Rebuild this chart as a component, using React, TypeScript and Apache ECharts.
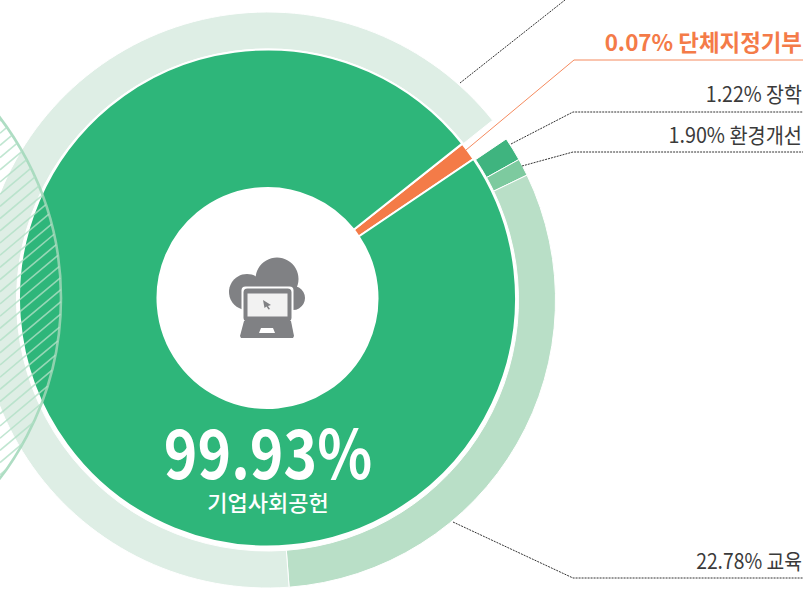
import React, { useEffect, useRef } from "react";
import * as echarts from "echarts";

// Drawn sweep of each slice in degrees (the source graphic is not to scale with its labels)
const innerNames = ["단체지정기부", "기업사회공헌"];
const innerSweeps = [4.4, 355.6];
const innerColors = ["#F47B48", "#2EB67A"];

const outerNames = ["", "장학", "환경개선", "교육", "기타"];
const outerSweeps = [4.6, 4.8, 3.5, 111.4, 235.7];
const outerColors = ["rgba(0,0,0,0)", "#3FB47F", "#7DCA9F", "#B9DFC7", "#DEEEE5"];

const bigValue = "99.93%";
const bigName = "기업사회공헌";
const labelTexts = ["0.07% 단체지정기부", "1.22% 장학", "1.90% 환경개선", "22.78% 교육"];
const FONT = '"Noto Sans CJK KR", "Noto Sans", sans-serif';

function hatch() {
  const cx = -235, cy = 298, R = 296;
  const k = -Math.tan((40 * Math.PI) / 180);
  const out: any[] = [];
  for (let c = 60; c < 560; c += 12.2) {
    const A = 1 + k * k;
    const B = 2 * (k * (c - cy) - cx);
    const C = cx * cx + (c - cy) * (c - cy) - R * R;
    const D = B * B - 4 * A * C;
    if (D <= 0) continue;
    const x2 = (-B + Math.sqrt(D)) / (2 * A);
    const x1 = Math.max(0, (-B - Math.sqrt(D)) / (2 * A));
    if (x2 <= 0) continue;
    out.push({
      type: "line", z: 10, silent: true,
      shape: { x1, y1: k * x1 + c, x2, y2: k * x2 + c },
      style: { stroke: "rgba(176,224,198,0.8)", lineWidth: 1.6 },
    });
  }
  return out;
}

function leader(points: number[][], dashed: boolean) {
  return {
    type: "polyline", z: 10, silent: true,
    shape: { points },
    style: dashed
      ? { stroke: "#333", lineWidth: 1, lineDash: [2, 1], fill: "none" }
      : { stroke: "#F58A5E", lineWidth: 1, fill: "none" },
  };
}

function label(text: string, y: number, sx: number, bold = false) {
  return {
    type: "text", z: 10, silent: true, x: 802, y, scaleX: sx,
    style: {
      text, align: "right", verticalAlign: "middle",
      font: `${bold ? 700 : 400} ${bold ? 23 : 21}px ${FONT}`,
      fill: bold ? "#F47B48" : "#3a3a3a",
    },
  };
}

function icon() {
  const g = "#808184";
  return [
    { type: "circle", shape: { cx: 247, cy: 292, r: 18 }, style: { fill: g } },
    { type: "circle", shape: { cx: 277, cy: 279, r: 21.5 }, style: { fill: g } },
    { type: "circle", shape: { cx: 293, cy: 298, r: 12 }, style: { fill: g } },
    { type: "rect", shape: { x: 241.5, y: 286.5, width: 52, height: 37, r: 4 }, style: { fill: "#fff" } },
    { type: "rect", shape: { x: 243.5, y: 288.5, width: 48, height: 33, r: 4 }, style: { fill: g } },
    { type: "rect", shape: { x: 247.5, y: 293.5, width: 40, height: 23 }, style: { fill: "#f2f2f2" } },
    { type: "polygon", shape: { points: [[263, 300], [271, 305], [268, 306], [270, 309], [268.5, 309.5], [266.5, 306.5], [264.5, 308]] }, style: { fill: g } },
    { type: "polygon", shape: { points: [[244, 321], [291, 321], [294, 336], [293, 338], [241, 338], [240, 336]] }, style: { fill: g } },
    { type: "polygon", shape: { points: [[261, 328], [273, 328], [275, 333], [259, 333]] }, style: { fill: "#fff" } },
  ].map((e) => ({ ...e, z: 10, silent: true }));
}

export default function App() {
  const ref = useRef<HTMLDivElement>(null);
  useEffect(() => {
    const chart = echarts.init(ref.current!, undefined, { renderer: "svg" });
    chart.setOption({
      animation: false,
      backgroundColor: "#fff",
      series: [
        {
          type: "pie", silent: true, center: [267.5, 300], radius: [251, 288], startAngle: 38.6,
          clockwise: true, minAngle: 0, label: { show: false }, labelLine: { show: false },
          data: outerNames.map((name, i) => ({
            name, value: outerSweeps[i],
            itemStyle: { color: outerColors[i], borderColor: i ? "#fff" : "rgba(0,0,0,0)", borderWidth: i ? 1 : 0 },
          })),
        },
        {
          type: "pie", silent: true, center: [267.5, 298], radius: [110, 248.5], startAngle: 38.4,
          clockwise: true, label: { show: false }, labelLine: { show: false },
          data: innerNames.map((name, i) => ({
            name, value: innerSweeps[i],
            itemStyle: { color: innerColors[i], borderColor: "#fff", borderWidth: 2 },
          })),
        },
      ],
      graphic: { elements: [
        { type: "circle", z: 10, silent: true, shape: { cx: -235, cy: 298, r: 296 }, style: { fill: "none", stroke: "rgba(160,215,185,0.85)", lineWidth: 2.6 } },
        ...hatch(),
        ...icon(),
        leader([[460, 83], [565, 0]], true),
        leader([[466, 150], [574, 60], [803, 60]], false),
        leader([[511, 144], [573, 112], [803, 112]], true),
        leader([[522, 166], [573, 152], [803, 152]], true),
        leader([[453, 522], [573, 578], [803, 578]], true),
        label(labelTexts[0], 41, 0.975, true),
        label(labelTexts[1], 93, 0.93),
        label(labelTexts[2], 134, 0.94),
        label(labelTexts[3], 560, 0.92),
        { type: "text", z: 10, silent: true, x: 268, y: 449, scaleX: 0.84,
          style: { text: bigValue, align: "center", verticalAlign: "middle", font: `700 68px ${FONT}`, fill: "#fff" } },
        { type: "text", z: 10, silent: true, x: 268, y: 501,
          style: { text: bigName, align: "center", verticalAlign: "middle", font: `500 22px ${FONT}`, fill: "#fff" } },
      ] },
    });
    return () => chart.dispose();
  }, []);
  return <div ref={ref} style={{ position: "absolute", left: 0, top: 0, width: 805, height: 590 }} />;
}
